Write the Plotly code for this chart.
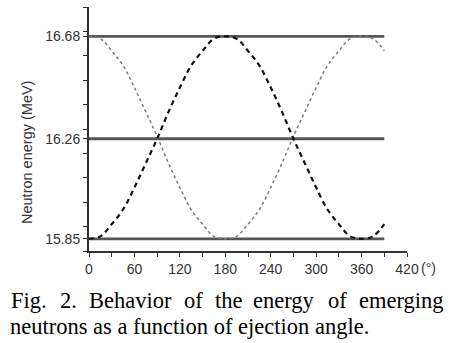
import plotly.graph_objects as go

# ---- data ----
angles = [0, 15, 30, 45, 60, 75, 90, 105, 120, 135, 150, 165, 180,
          195, 210, 225, 240, 255, 270, 285, 300, 315, 330, 345, 360, 375, 390]
energy_dotted = [16.68, 16.67, 16.62, 16.56, 16.47, 16.37, 16.27, 16.16, 16.06, 15.97, 15.91, 15.86, 15.85,
                 15.86, 15.91, 15.97, 16.06, 16.16, 16.27, 16.37, 16.47, 16.56, 16.62, 16.67, 16.68, 16.67, 16.62]
energy_dashed = [15.85, 15.86, 15.91, 15.97, 16.06, 16.16, 16.26, 16.37, 16.47, 16.56, 16.62, 16.67, 16.68,
                 16.67, 16.62, 16.56, 16.47, 16.37, 16.26, 16.16, 16.06, 15.97, 15.91, 15.86, 15.85, 15.86, 15.91]
levels = [16.68, 16.26, 15.85]
level_span = [0, 390]
y_tick_labels = ["15.85", "16.26", "16.68"]
x_ticks = [0, 60, 120, 180, 240, 300, 360, 420]

W, H = 458, 343
ML, MR, MT, MB = 89, 51, 7, 92
PW, PH = W - ML - MR, H - MT - MB


def px(x):
    return (x - ML) / PW


def py(y):
    return (H - MB - y) / PH


fig = go.Figure()

for lv in levels:
    fig.add_trace(go.Scatter(x=level_span, y=[lv, lv], mode="lines",
                             line=dict(color="#555555", width=2.8),
                             showlegend=False, hoverinfo="skip"))

fig.add_trace(go.Scatter(x=angles, y=energy_dotted, mode="lines",
                         line=dict(color="#7a7a7a", width=1.5, dash="dot", shape="spline"),
                         showlegend=False))
fig.add_trace(go.Scatter(x=angles, y=energy_dashed, mode="lines",
                         line=dict(color="#111111", width=2.2, dash="5px,4px", shape="spline"),
                         showlegend=False))

tick_font = dict(family="Liberation Sans, Arial, sans-serif", size=14, color="#333333")

fig.update_xaxes(range=[0, 420], tickvals=x_ticks, ticktext=[str(v) for v in x_ticks],
                 showgrid=False, zeroline=False, showline=True, linecolor="#333333", linewidth=2,
                 ticks="outside", ticklen=4, tickwidth=1, tickcolor="#333333",
                 minor=dict(dtick=30, tick0=0, ticks="outside", ticklen=4, tickcolor="#333333", showgrid=False),
                 tickfont=tick_font, fixedrange=True)
fig.update_yaxes(range=[15.8, 16.8], tickvals=[float(t) for t in y_tick_labels], ticktext=y_tick_labels,
                 showgrid=False, zeroline=False, showline=True, linecolor="#333333", linewidth=2,
                 ticks="outside", ticklen=4, tickwidth=1, tickcolor="#333333",
                 minor=dict(dtick=0.1, tick0=15.8, ticks="outside", ticklen=4, tickcolor="#333333", showgrid=False),
                 tickfont=tick_font, fixedrange=True)

annotations = []
annotations.append(dict(text="Neutron energy (MeV)", x=px(27), y=py(152), xref="paper", yref="paper",
                        xanchor="center", yanchor="middle", textangle=-90, showarrow=False,
                        font=dict(family="Liberation Sans, Arial, sans-serif", size=14.5, color="#333333")))
annotations.append(dict(text="(°)", x=px(419), y=py(268), xref="paper", yref="paper",
                        xanchor="left", yanchor="middle", showarrow=False, font=tick_font))

cap_font = dict(family="Liberation Serif, Times New Roman, serif", size=22.5, color="#000000")
line1_words = ["Fig.", "2.", "Behavior", "of", "the", "energy", "of", "emerging"]
line1_x = [9, 68, 130, 193, 229, 284, 337, 446]
line1_anchor = ["left"] + ["center"] * 6 + ["right"]
for w, lx, anc in zip(line1_words, line1_x, line1_anchor):
    annotations.append(dict(text=w, x=px(lx), y=py(300), xref="paper", yref="paper",
                            xanchor=anc, yanchor="middle", showarrow=False, font=cap_font))
annotations.append(dict(text="neutrons as a function of ejection angle.", x=px(8), y=py(326),
                        xref="paper", yref="paper", xanchor="left", yanchor="middle",
                        showarrow=False, font=cap_font))

fig.update_layout(width=W, height=H, margin=dict(l=ML, r=MR, t=MT, b=MB),
                  paper_bgcolor="white", plot_bgcolor="white", annotations=annotations,
                  showlegend=False)

fig.write_html("out.html", config={"displayModeBar": False},
               post_script="document.body.style.margin='0px';")
